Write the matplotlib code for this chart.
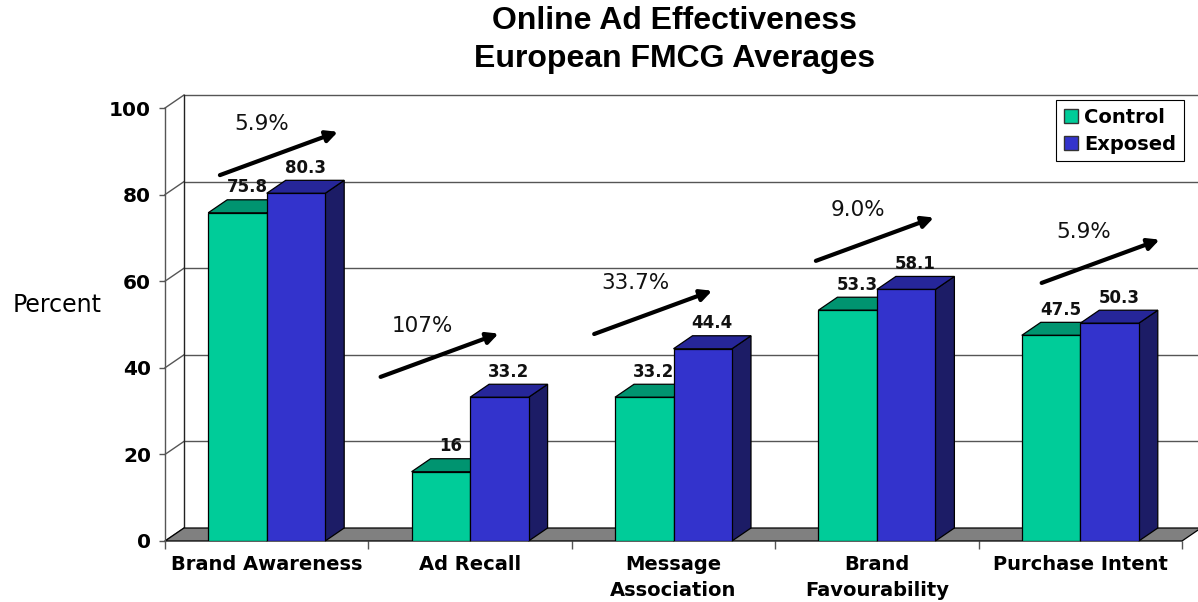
import matplotlib
matplotlib.use("Agg")
import matplotlib.pyplot as plt
from matplotlib.patches import Polygon, Patch

categories = ["Brand Awareness", "Ad Recall", "Message\nAssociation",
              "Brand\nFavourability", "Purchase Intent"]
control = [75.8, 16, 33.2, 53.3, 47.5]
exposed = [80.3, 33.2, 44.4, 58.1, 50.3]
lift_labels = ["5.9%", "107%", "33.7%", "9.0%", "5.9%"]
y_ticks = [0, 20, 40, 60, 80, 100]

# hand placed start of each lift arrow (category units, percent units)
arrow_starts = [(0.27, 84.5), (1.06, 37.9), (2.11, 47.8), (3.20, 64.7), (4.31, 59.6)]

GREEN = "#00CC99"
GREEN_TOP = "#009470"
BLUE = "#3333CC"
BLUE_TOP = "#262699"
BLUE_SIDE = "#1C1C66"
FLOOR = "#808080"
GRID = "#555555"

# fake 3d depth offset
DX = 0.0934
DY = 3.0
BAR_W = 0.2876
N = len(categories)

fig = plt.figure(figsize=(11.98, 6.02), dpi=100)
ax = fig.add_axes([165 / 1198, 61 / 602, 1017 / 1198, 433 / 602])
ax.set_xlim(0, N)
ax.set_ylim(0, 100)
for s in ["top", "right", "bottom"]:
    ax.spines[s].set_visible(False)
ax.spines["left"].set_color(GRID)
ax.spines["left"].set_linewidth(1.0)


def face(pts, fc, z):
    ax.add_patch(Polygon(pts, closed=True, facecolor=fc, edgecolor="black",
                         linewidth=0.9, zorder=z, clip_on=False))


# back wall, side wall and floor
for y in y_ticks[1:]:
    ax.plot([DX, N + DX], [y + DY, y + DY], color=GRID, lw=1.0, zorder=1, clip_on=False)
for y in y_ticks:
    ax.plot([0, DX], [y, y + DY], color=GRID, lw=1.0, zorder=1, clip_on=False)
ax.plot([DX, DX], [DY, 100 + DY], color="#222222", lw=1.0, zorder=1, clip_on=False)
face([(0, 0), (N, 0), (N + DX, DY), (DX, DY)], FLOOR, 2)

# bars
for i in range(N):
    c = i + 0.5
    for x0, h, front, top, side, z in [
        (c - BAR_W, control[i], GREEN, GREEN_TOP, GREEN_TOP, 3),
        (c, exposed[i], BLUE, BLUE_TOP, BLUE_SIDE, 4),
    ]:
        x1 = x0 + BAR_W
        face([(x1, 0), (x1 + DX, DY), (x1 + DX, h + DY), (x1, h)], side, z)
        face([(x0, h), (x1, h), (x1 + DX, h + DY), (x0 + DX, h + DY)], top, z)
        ax.bar(x0, h, width=BAR_W, align="edge", color=front, edgecolor="black",
               linewidth=0.9, zorder=z)
        ax.text(x0 + BAR_W / 2 + DX / 2, h + DY + 0.8, f"{h:g}", ha="center", va="bottom",
                fontsize=12, fontweight="bold", color="#111111", zorder=6)

# lift arrows
for (xs, ys), lbl in zip(arrow_starts, lift_labels):
    ax.annotate("", xy=(xs + 0.58, ys + 10), xytext=(xs, ys),
                arrowprops=dict(arrowstyle="-|>", color="black", lw=3,
                                mutation_scale=17, shrinkA=0, shrinkB=0),
                zorder=7, annotation_clip=False)
    ax.text(xs + 0.205, ys + 11.8, lbl, ha="center", va="center",
            fontsize=15.5, color="#111111", zorder=7)

# axes ticks
ax.set_yticks(y_ticks)
ax.set_yticklabels([str(t) for t in y_ticks], fontsize=14.5, fontweight="bold")
ax.tick_params(axis="y", length=4, width=1, color=GRID, pad=6)
ax.set_xticks(range(N + 1))
ax.set_xticklabels([""] * (N + 1))
ax.tick_params(axis="x", which="major", length=6, width=1, color=GRID, direction="out")
ax.set_xticks([i + 0.5 for i in range(N)], minor=True)
ax.set_xticklabels(categories, minor=True, fontsize=14, fontweight="bold")
ax.tick_params(axis="x", which="minor", length=0, pad=10)
for lbl in ax.get_xticklabels(minor=True):
    lbl.set_linespacing(1.45)

fig.text(57 / 1198, 1 - 305 / 602, "Percent", ha="center", va="center", fontsize=17)
fig.text(0.563, 1 - 40 / 602, "Online Ad Effectiveness\nEuropean FMCG Averages",
         ha="center", va="center", fontsize=23, fontweight="bold",
         family="Liberation Sans", linespacing=1.35)

handles = [Patch(facecolor=GREEN, edgecolor="#333333", label="Control"),
           Patch(facecolor=BLUE, edgecolor="#333333", label="Exposed")]
leg = fig.legend(handles=handles, loc="upper right", bbox_to_anchor=(1184 / 1198, 1 - 100 / 602),
                 borderaxespad=0, fancybox=False, framealpha=1, edgecolor="black",
                 prop={"size": 14, "weight": "bold"}, handlelength=0.75, handleheight=0.75,
                 handletextpad=0.3, labelspacing=0.4, borderpad=0.4)
leg.get_frame().set_linewidth(0.8)

fig.savefig("out.png", dpi=100)
